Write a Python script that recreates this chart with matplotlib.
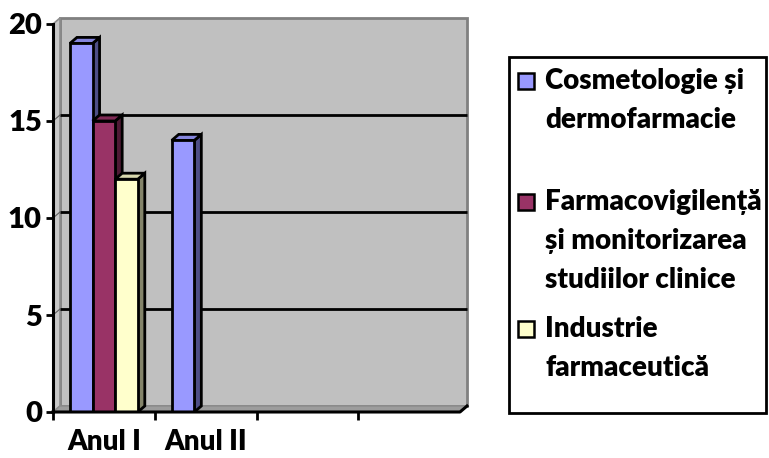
import matplotlib
matplotlib.use("Agg")
import matplotlib.pyplot as plt
import numpy as np

# ---- data ----
categories = ["Anul I", "Anul II", "", ""]
series_names = ["Cosmetologie și\ndermofarmacie",
                "Farmacovigilență\nși monitorizarea\nstudiilor clinice",
                "Industrie\nfarmaceutică"]
cosmetologie = [19, 14, None, None]
farmacovigilenta = [15, None, None, None]
industrie = [12, None, None, None]
yticks = [0, 5, 10, 15, 20]

series_vals = [cosmetologie, farmacovigilenta, industrie]
front_cols = ["#9999FF", "#993366", "#FFFFCC"]
side_cols = ["#4E4E86", "#4F1A35", "#84846A"]
top_cols = ["#8585DD", "#7F2A55", "#D8D8AE"]

W, H, DPI = 769, 458, 100
FONT = "Lato"
WEIGHT = "heavy"

fig = plt.figure(figsize=(W / DPI, H / DPI), dpi=DPI)
# axes in pixel geometry
L, R, T, B = 53, 460, 24, 412
ax = fig.add_axes([L / W, (H - B) / H, (R - L) / W, (B - T) / H])
ncat = len(categories)
ax.set_xlim(0, ncat)
ax.set_ylim(0, 20)
ax.patch.set_visible(False)

# depth offset in data units
px_x = ncat / (R - L)
px_y = 20 / (B - T)
DX, DY = 7 * px_x, 6 * px_y

# back wall
ax.fill([DX, ncat + DX, ncat + DX, DX], [DY, DY, 20 + DY, 20 + DY],
        facecolor="#C0C0C0", edgecolor="#808080", lw=2, zorder=0, clip_on=False)
# side wall
ax.fill([0, DX, DX, 0], [0, DY, 20 + DY, 20], facecolor="#C8C8C8",
        edgecolor="#8C8C8C", lw=1.2, zorder=0.5, clip_on=False)
# floor
ax.fill([0, ncat, ncat + DX, DX], [0, 0, DY, DY], facecolor="#9C9C9C",
        edgecolor="#8C8C8C", lw=1, zorder=0.5, clip_on=False)
# gridlines
for yv in yticks[1:-1]:
    ax.plot([DX, ncat + DX], [yv + DY, yv + DY], color="black", lw=2, zorder=1,
            clip_on=False, solid_capstyle="butt")
    ax.plot([0, DX], [yv, yv + DY], color="#606060", lw=0.8, zorder=1, clip_on=False)

# bars
nser = len(series_vals)
w = 1 / (nser + 1.5)
gap = 0.75 * w
x_idx = np.arange(ncat)
for ci in range(ncat):
    for j, vals in enumerate(series_vals):
        v = vals[ci]
        if v is None:
            continue
        x0 = ci + gap + j * w
        z = 2 + ci * 10 + j
        ax.bar(x0, v, width=w, align="edge", color=front_cols[j],
               edgecolor="black", lw=2, zorder=z + 0.2)
        # side face
        ax.fill([x0 + w, x0 + w + DX, x0 + w + DX, x0 + w],
                [0, DY, v + DY, v], facecolor=side_cols[j], edgecolor="black",
                lw=2, zorder=z, joinstyle="miter")
        # top face
        ax.fill([x0, x0 + DX, x0 + w + DX, x0 + w],
                [v, v + DY, v + DY, v], facecolor=top_cols[j], edgecolor="black",
                lw=2, zorder=z + 0.1, joinstyle="miter")

# front bottom edge
ax.plot([0, ncat, ncat + DX], [0, 0, DY], color="black", lw=2.2, zorder=50,
        clip_on=False)

# axes styling
for s in ["top", "right", "bottom"]:
    ax.spines[s].set_visible(False)
ax.spines["left"].set_linewidth(2.2)
ax.spines["left"].set_zorder(51)
ax.set_yticks(yticks)
ax.set_yticklabels([str(t) for t in yticks], fontsize=21, fontweight=WEIGHT,
                   family=FONT)
ax.tick_params(axis="y", length=5, width=2, pad=3, direction="out")
ax.set_xticks(range(ncat))
ax.set_xticklabels([])
ax.tick_params(axis="x", which="major", length=6, width=2, direction="out",
               bottom=True)
ax.set_xticks(x_idx + 0.5, minor=True)
ax.set_xticklabels(categories, minor=True, fontsize=20, fontweight=WEIGHT,
                   family=FONT)
ax.tick_params(axis="x", which="minor", length=0, pad=12)
for t in ax.xaxis.get_majorticklines():
    t.set_zorder(60)

# legend (manual, pixel-positioned box)
lx0, ly0, lx1, ly1 = 509, 57, 766, 413
fig.patches.append(plt.Rectangle((lx0 / W, 1 - ly1 / H), (lx1 - lx0) / W,
                                 (ly1 - ly0) / H, transform=fig.transFigure,
                                 facecolor="white", edgecolor="black", lw=2))
entry_y = [81, 202, 329]
line_gap = 39
msz = 16
for j, name in enumerate(series_names):
    cy = entry_y[j]
    fig.patches.append(plt.Rectangle(((526 - msz / 2) / W, 1 - (cy + msz / 2) / H),
                                     msz / W, msz / H, transform=fig.transFigure,
                                     facecolor=front_cols[j], edgecolor="black",
                                     lw=1.8))
    for k, line in enumerate(name.split("\n")):
        fig.text(545 / W, 1 - (cy + k * line_gap) / H, line, fontsize=20,
                 fontweight=WEIGHT, family=FONT, va="center", ha="left")

fig.savefig("out.png", dpi=DPI)
